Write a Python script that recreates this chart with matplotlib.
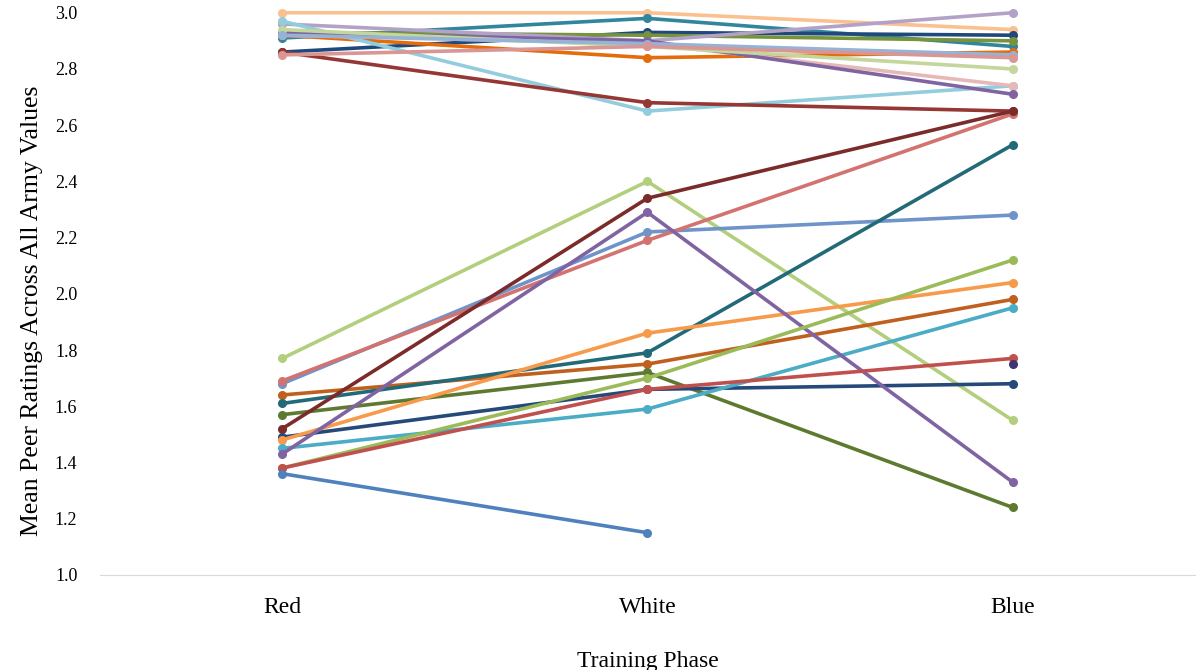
import numpy as np
import matplotlib.pyplot as plt

plt.rcParams['font.family'] = ['Liberation Serif', 'DejaVu Serif']

phases = ['Red', 'White', 'Blue']

# one list per person: mean rating at Red, White, Blue (nan = missing)
nan = np.nan
series = [
    # upper cluster
    ([3.00, 3.00, 2.94], '#FAC090'),
    ([2.91, 2.98, 2.88], '#31859C'),
    ([2.86, 2.93, 2.92], '#1F497D'),
    ([2.93, 2.92, 2.90], '#77933C'),
    ([2.92, 2.84, 2.86], '#E46C0A'),
    ([2.96, 2.90, 3.00], '#B3A2C7'),
    ([2.97, 2.65, 2.74], '#93CDDD'),
    ([2.86, 2.68, 2.65], '#953735'),
    ([2.92, 2.89, 2.74], '#E6B9B8'),
    ([2.93, 2.90, 2.71], '#8064A2'),
    ([2.94, 2.88, 2.80], '#C3D69B'),
    ([2.92, 2.89, 2.85], '#95B3D7'),
    ([2.85, 2.88, 2.84], '#D99694'),
    # lower group
    ([1.77, 2.40, 1.55], '#B3CF7E'),
    ([1.68, 2.22, 2.28], '#6F94CA'),
    ([1.69, 2.19, 2.64], '#D37370'),
    ([1.64, 1.75, 1.98], '#C0601F'),
    ([1.61, 1.79, 2.53], '#236A78'),
    ([1.57, 1.72, 1.24], '#5E7A30'),
    ([1.52, 2.34, 2.65], '#7B2C2A'),
    ([1.49, 1.66, 1.68], '#254A7A'),
    ([1.48, 1.86, 2.04], '#F79A4B'),
    ([1.45, 1.59, 1.95], '#4BACC6'),
    ([1.43, 2.29, 1.33], '#8064A2'),
    ([1.38, 1.70, 2.12], '#9BBB59'),
    ([1.38, 1.66, 1.77], '#C0504D'),
    ([1.36, 1.15, nan], '#4F81BD'),
    ([nan, nan, 1.75], '#3F3570'),
]

fig = plt.figure(figsize=(12, 6.7), dpi=100)
ax = fig.add_axes([0.083, 0.142, 0.913, 0.839])

x = np.arange(len(phases))
for vals, col in series:
    ax.plot(x, vals, color=col, linewidth=2.6, marker='o', markersize=5.5,
            solid_capstyle='round', clip_on=False)

ax.set_xlim(-0.5, 2.5)
ax.set_ylim(1.0, 3.0)
ticks = np.arange(1.0, 3.01, 0.2)
ax.set_yticks(ticks)
ax.set_yticklabels([f'{v:.1f}' for v in ticks])
ax.set_xticks(x)
ax.set_xticklabels(phases, fontsize=17)
ax.tick_params(axis='y', labelsize=13, length=0, pad=16)
ax.tick_params(axis='x', length=0, pad=16)

for s in ['top', 'right', 'left']:
    ax.spines[s].set_visible(False)
ax.spines['bottom'].set_color('#D9D9D9')

ax.set_ylabel('Mean Peer Ratings Across All Army Values', fontsize=18.5)
ax.yaxis.set_label_coords(-0.052, 0.47)
ax.set_xlabel('Training Phase', fontsize=17, labelpad=24)

fig.savefig('out.png', dpi=100)
